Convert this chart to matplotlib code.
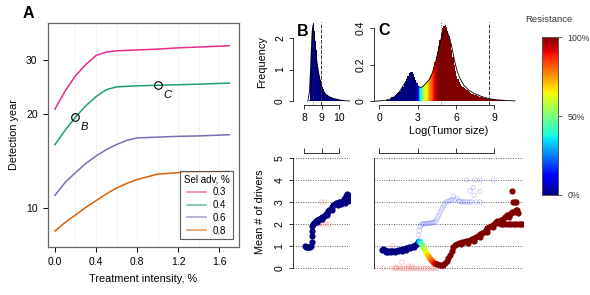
import numpy as np
import matplotlib
matplotlib.use('Agg')
import matplotlib.pyplot as plt
from matplotlib.lines import Line2D

plt.rcParams['font.family'] = ['Liberation Sans', 'DejaVu Sans']
plt.rcParams['font.size'] = 7.5

W, H = 590, 295

# ---- panel A data ----
treat_x = [0, 0.1, 0.2, 0.3, 0.4, 0.5, 0.6, 0.7, 0.8, 1.0, 1.2, 1.4, 1.7]
sel_labels = ['0.3', '0.4', '0.6', '0.8']
sel_colors = ['#E7298A', '#1B9E77', '#7570B3', '#D95F02']
det_03 = [20.8, 23.8, 26.6, 28.9, 30.9, 31.7, 32.0, 32.1, 32.2, 32.4, 32.7, 32.9, 33.2]
det_04 = [16.0, 17.8, 19.6, 21.3, 22.8, 24.0, 24.5, 24.6, 24.7, 24.8, 24.9, 25.0, 25.2]
det_06 = [11.0, 12.1, 13.0, 13.9, 14.7, 15.4, 16.0, 16.5, 16.8, 16.9, 17.0, 17.05, 17.2]
det_08 = [8.44, 9.0, 9.5, 10.05, 10.56, 11.1, 11.6, 12.0, 12.35, 12.85, 13.0, 13.05, 13.1]
marked_pts = [(0.2, 19.6, 'B'), (1.0, 24.8, 'C')]

# ---- panel B top: histogram of log tumor size ----
b_hist_left = [8.20, 8.25, 8.30, 8.35, 8.40, 8.45, 8.50, 8.55, 8.60, 8.65, 8.70, 8.75,
               8.80, 8.85, 8.90, 8.95, 9.00, 9.05, 9.10, 9.15, 9.20, 9.25, 9.30, 9.35,
               9.40, 9.45, 9.50, 9.55, 9.60, 9.65, 9.70, 9.75, 9.80, 9.85, 9.90, 9.95,
               10.0, 10.05, 10.1, 10.15, 10.2, 10.25, 10.3, 10.35, 10.4, 10.45, 10.5, 10.55]
b_hist_h = [0.0, 0.05, 0.35, 1.0, 1.7, 2.3, 2.45, 2.2, 1.9, 1.6, 1.35, 1.12,
            0.95, 0.8, 0.67, 0.55, 0.45, 0.38, 0.33, 0.28, 0.24, 0.21, 0.19, 0.17,
            0.15, 0.14, 0.12, 0.11, 0.1, 0.09, 0.08, 0.075, 0.07, 0.06, 0.055, 0.05,
            0.045, 0.04, 0.035, 0.03, 0.028, 0.025, 0.02, 0.018, 0.015, 0.012, 0.01, 0.008]
b_dens_x = [8.2, 8.3, 8.35, 8.4, 8.45, 8.5, 8.55, 8.6, 8.7, 8.8, 8.9, 9.0, 9.1, 9.2,
            9.4, 9.6, 9.8, 10.0, 10.3, 10.6]
b_dens_y = [0, 0.3, 0.9, 1.6, 2.2, 2.4, 2.2, 1.9, 1.35, 0.95, 0.67, 0.45, 0.33, 0.24,
            0.15, 0.1, 0.07, 0.045, 0.02, 0.008]
b_dashed, b_dotted = 8.93, 8.5

# ---- panel C top ----
c_bin_start, c_bin_w = -0.4, 0.1
c_hist_h = [0.000, 0.000, 0.001, 0.001, 0.002, 0.002, 0.003, 0.003, 0.004, 0.005,
            0.006, 0.008, 0.010, 0.021, 0.022, 0.025, 0.030, 0.042, 0.045, 0.050,
            0.058, 0.066, 0.078, 0.092, 0.108, 0.122, 0.140, 0.152, 0.162, 0.160,
            0.150, 0.135, 0.118, 0.100, 0.086, 0.078, 0.078, 0.082, 0.088, 0.094,
            0.100, 0.108, 0.118, 0.130, 0.145, 0.162, 0.185, 0.212, 0.240, 0.270,
            0.300, 0.335, 0.370, 0.398, 0.410, 0.418, 0.405, 0.385, 0.355, 0.320,
            0.280, 0.240, 0.200, 0.165, 0.140, 0.120, 0.105, 0.095, 0.086, 0.078,
            0.071, 0.065, 0.060, 0.055, 0.050, 0.046, 0.042, 0.039, 0.036, 0.033,
            0.030, 0.028, 0.026, 0.024, 0.022, 0.020, 0.018, 0.016, 0.015, 0.014,
            0.013, 0.012, 0.011, 0.010, 0.009, 0.008, 0.008, 0.007, 0.006, 0.006,
            0.005, 0.005, 0.004, 0.004, 0.003, 0.003, 0.003, 0.002, 0.002, 0.002]
# resistance of bins from 2.9 to 4.6 (below: 0, above: 1)
c_res_from = 2.9
c_res_trans = [0.05, 0.15, 0.3, 0.4, 0.48, 0.55, 0.6, 0.64, 0.68, 0.72, 0.75, 0.8,
               0.84, 0.88, 0.92, 0.96, 0.99]
c_dens_x = [-0.4, 0, 0.5, 1.0, 1.5, 2.0, 2.2, 2.4, 2.6, 2.8, 3.0, 3.2, 3.4, 3.6, 3.8,
            4.0, 4.2, 4.4, 4.6, 4.8, 5.0, 5.15, 5.3, 5.5, 5.7, 5.9, 6.1, 6.3, 6.6, 7.0,
            7.5, 8.0, 8.6, 9.2, 9.8, 10.6]
c_dens_y = [0.0, 0.002, 0.006, 0.016, 0.045, 0.10, 0.125, 0.143, 0.135, 0.11, 0.085,
            0.075, 0.08, 0.095, 0.11, 0.128, 0.168, 0.215, 0.275, 0.335, 0.378, 0.389,
            0.38, 0.345, 0.285, 0.215, 0.16, 0.125, 0.088, 0.06, 0.04, 0.026, 0.014,
            0.008, 0.005, 0.002]
c_dashed, c_dotted = 8.6, 4.8

# ---- panel B bottom: mean drivers ----
b_drv_x = [8.04, 8.1, 8.16, 8.22, 8.28, 8.34, 8.4, 8.44, 8.45, 8.46, 8.47, 8.5, 8.55,
           8.6, 8.65, 8.7, 8.75, 8.8, 8.85, 8.9, 8.95, 9.0, 9.07, 9.14, 9.21, 9.28,
           9.35, 9.42, 9.5, 9.58, 9.66, 9.73, 9.8, 9.88, 9.95, 10.02, 10.1, 10.18,
           10.25, 10.32, 10.38, 10.44, 10.48, 10.52, 10.55, 10.5, 10.3, 10.1, 9.9, 9.6,
           9.3, 9.0, 8.75]
b_drv_y = [1.0, 0.98, 0.97, 0.97, 0.98, 0.98, 1.0, 1.2, 1.45, 1.7, 1.9, 2.0, 2.05,
           2.1, 2.12, 2.16, 2.18, 2.2, 2.22, 2.25, 2.27, 2.3, 2.33, 2.38, 2.45, 2.5,
           2.57, 2.62, 2.7, 2.78, 2.85, 2.9, 2.95, 2.97, 3.0, 2.98, 3.02, 3.05,
           3.12, 3.2, 3.25, 3.38, 3.3, 3.15, 3.1, 3.05, 2.95, 2.9, 2.85, 2.65,
           2.42, 2.22, 2.1]
b_pink_x = [8.98, 9.17, 8.85, 8.98, 9.1, 9.25, 9.4]
b_pink_y = [3.0, 3.0, 2.0, 2.0, 2.0, 2.0, 2.0]

# ---- panel C bottom ----
c_navy_x = [0.19, 0.3, 0.45, 0.6, 0.75, 0.9, 1.0, 1.15, 1.3, 1.45, 1.6, 1.75, 1.9, 2.05,
            2.2, 2.35, 2.5, 2.65, 2.8, 2.95, 3.05, 0.5, 0.7, 0.9, 1.2, 1.5, 1.8, 2.1,
            2.4, 2.7]
c_navy_y = [0.83, 0.86, 0.82, 0.80, 0.78, 0.80, 0.76, 0.80, 0.79, 0.82, 0.84, 0.86,
            0.88, 0.90, 0.93, 0.96, 0.98, 1.02, 1.05, 1.12, 1.18, 0.74, 0.72, 0.72,
            0.73, 0.76, 0.8, 0.84, 0.9, 0.97]
c_mix_x = [3.1, 3.18, 3.3, 3.44, 3.57, 3.7, 3.83, 3.96, 4.09, 4.22, 4.35, 4.48, 4.6]
c_mix_y = [1.2, 1.2, 1.1, 0.98, 0.83, 0.68, 0.56, 0.45, 0.35, 0.27, 0.21, 0.18, 0.16]
c_mix_res = [0.2, 0.35, 0.45, 0.52, 0.58, 0.64, 0.7, 0.75, 0.8, 0.85, 0.9, 0.95, 1.0]
c_red_x = [4.74, 4.87, 5.0, 5.13, 5.26, 5.39, 5.52, 5.65, 5.78, 5.9, 6.05, 6.2, 6.35,
           6.5, 6.65, 6.8, 6.95, 7.1, 7.25, 7.4, 7.55, 7.7, 7.85, 8.0, 8.15, 8.3, 8.45,
           8.6, 8.75, 8.9, 9.05, 9.2, 9.35, 9.5, 9.65, 9.8, 9.95, 10.1, 10.25, 10.4,
           10.55, 10.7, 10.85, 9.5, 9.7, 9.9, 10.1, 10.3, 10.5, 10.7, 10.9, 11.05,
           11.15, 6.4, 6.9, 7.4, 7.9, 8.4, 8.9, 9.3, 10.34, 10.47, 10.6, 10.68, 10.73]
c_red_y = [0.15, 0.14, 0.17, 0.23, 0.35, 0.47, 0.6, 0.8, 0.98, 1.04, 1.1, 1.13, 1.15,
           1.17, 1.19, 1.22, 1.25, 1.28, 1.31, 1.35, 1.4, 1.47, 1.53, 1.59, 1.65, 1.72,
           1.8, 1.87, 1.92, 1.97, 2.05, 2.12, 2.16, 2.2, 2.25, 2.33, 2.4, 2.3, 2.45,
           2.55, 2.55, 2.65, 2.5, 2.0, 2.0, 2.0, 2.0, 2.0, 2.0, 2.0, 2.0, 2.0,
           2.0, 1.08, 1.15, 1.25, 1.42, 1.65, 1.88, 2.05, 3.51, 3.01, 3.0, 3.02, 2.65]
c_blue_x = [3.05, 3.12, 3.18, 3.25, 3.35, 3.44, 3.55, 3.65, 3.75, 3.85, 3.96, 4.05,
            4.15, 4.25, 4.35, 4.45, 4.55, 4.65, 4.75, 4.87, 4.95, 5.05, 5.13, 5.25,
            5.4, 5.52, 5.65, 5.78, 5.9, 6.05, 6.2, 6.3, 6.45, 6.6, 6.75, 6.9, 7.09,
            7.25, 7.4, 7.34, 7.09, 7.87, 7.87, 6.83, 7.48, 7.87, 8.9, 7.6]
c_blue_y = [1.5, 1.7, 1.88, 1.95, 2.0, 2.0, 2.02, 2.03, 2.03, 2.04, 2.04, 2.05,
            2.06, 2.07, 2.1, 2.18, 2.28, 2.4, 2.52, 2.64, 2.75, 2.85, 2.94, 3.0,
            3.05, 3.05, 3.1, 3.24, 3.1, 3.17, 3.05, 3.02, 3.0, 3.0, 3.0, 3.0, 3.0,
            3.0, 3.3, 3.65, 3.5, 3.47, 3.0, 4.0, 4.0, 4.0, 4.0, 3.0]
c_pink_x = [0.31, 0.97, 1.22, 1.35, 1.5, 1.65, 1.8, 1.95, 2.1, 2.25, 2.4, 2.55, 2.7,
            2.85, 3.0, 3.15, 3.3, 3.45, 3.6, 3.75, 3.9, 4.05, 4.2, 4.35, 4.5, 1.75,
            2.27, 2.53, 1.05, 1.3]
c_pink_y = [0, 0, 0, 0, 0, 0, 0, 0, 0, 0, 0, 0, 0, 0, 0, 0, 0, 0, 0, 0, 0, 0, 0, 0,
            0, 0.27, 0.1, 0.1, 1.02, 0.05]

cmap = plt.get_cmap('jet')
navy, dred = cmap(0.0), cmap(1.0)
TICK_FS = 7.5
LAB_FS = 7.8


def box(l, t, r, b):
    return [l / W, 1 - b / H, (r - l) / W, (b - t) / H]


def r_style(ax):
    for s in ['top', 'right']:
        ax.spines[s].set_visible(False)
    ax.tick_params(length=3, width=0.7, labelsize=TICK_FS, color='#333333', pad=3)
    for s in ax.spines.values():
        s.set_linewidth(0.7)
        s.set_color('#333333')


fig = plt.figure(figsize=(W / 100, H / 100), dpi=100)

# ================= A =================
axA = fig.add_axes(box(48, 23, 238.6, 247))
for gx in np.arange(0.2, 1.7, 0.2):
    axA.axvline(gx, color='#dddddd', ls=':', lw=0.7, zorder=0)
for ys, col in zip([det_03, det_04, det_06, det_08], sel_colors):
    axA.plot(treat_x, ys, color=col, lw=1.1)
for px, py, lab in marked_pts:
    axA.plot(px, py, 'o', mfc='none', mec='black', ms=5.5, mew=0.8)
    axA.annotate(lab, (px, py), xytext=(4, -9.5), textcoords='offset points',
                 fontsize=8, style='italic')
axA.set_yscale('log')
axA.set_ylim(7.5, 39.3)
axA.set_xlim(-0.068, 1.79)
axA.set_yticks([10, 20, 30])
axA.set_yticklabels(['10', '20', '30'])
axA.yaxis.set_minor_locator(matplotlib.ticker.NullLocator())
axA.set_xticks([0, 0.4, 0.8, 1.2, 1.6])
axA.set_xticklabels(['0.0', '0.4', '0.8', '1.2', '1.6'])
axA.tick_params(length=3.5, width=0.7, labelsize=TICK_FS, pad=4)
for s in axA.spines.values():
    s.set_color('#666666')
    s.set_linewidth(0.9)
axA.set_xlabel('Treatment intensity, %', fontsize=LAB_FS, labelpad=5)
axA.set_ylabel('Detection year', fontsize=LAB_FS, labelpad=5)
handles = [Line2D([], [], color=c, lw=1.2, alpha=0.6) for c in sel_colors]
leg = axA.legend(handles, sel_labels, title='Sel adv, %', loc='lower right',
                 bbox_to_anchor=(0.98, 0.027), fontsize=7, title_fontsize=7,
                 frameon=True, fancybox=False, handlelength=2.0,
                 borderpad=0.35, labelspacing=0.28, handletextpad=0.7,
                 borderaxespad=0.2)
leg.get_frame().set_edgecolor('#333333')
leg.get_frame().set_linewidth(0.8)
fig.text(28.3 / W, 1 - 13 / H, 'A', fontsize=11.5, fontweight='bold',
         ha='center', va='center')

# ================= B top =================
axB = fig.add_axes(box(293.3, 22, 350, 105))
axB.bar(b_hist_left, b_hist_h, width=0.05, align='edge', color=navy, lw=0)
axB.plot(b_dens_x, b_dens_y, color='black', lw=0.6)
axB.axvline(b_dashed, color='#333333', ls='--', lw=0.7)
axB.axvline(b_dotted, color='#333333', ls=':', lw=0.6)
axB.set_xlim(7.38, 10.6)
axB.set_ylim(-0.116, 2.494)
r_style(axB)
axB.spines['left'].set_bounds(0, 2)
axB.spines['bottom'].set_bounds(8, 10)
axB.set_xticks([8, 9, 10])
axB.set_yticks([0, 1, 2])
axB.tick_params(axis='y', labelrotation=90)
for t in axB.get_yticklabels():
    t.set_va('center')
fig.text(262 / W, 1 - 62 / H, 'Frequency', rotation=90, fontsize=LAB_FS,
         ha='center', va='center')
fig.text(302.3 / W, 1 - 31.7 / H, 'B', fontsize=11.5, fontweight='bold',
         ha='center', va='center')

# ================= C top =================
axC = fig.add_axes(box(374, 22, 523.3, 105))
n_bins = len(c_hist_h)
edges = c_bin_start + c_bin_w * np.arange(n_bins)
res = []
for e in edges:
    k = int(round((e - c_res_from) / c_bin_w))
    if k < 0:
        res.append(0.0)
    elif k >= len(c_res_trans):
        res.append(1.0)
    else:
        res.append(c_res_trans[k])
axC.bar(edges, c_hist_h, width=c_bin_w, align='edge', color=cmap(res), lw=0)
axC.plot(c_dens_x, c_dens_y, color='black', lw=0.6)
axC.axvline(c_dashed, color='#333333', ls='--', lw=0.7)
axC.axvline(c_dotted, color='#333333', ls=':', lw=0.6)
axC.set_xlim(-0.414, 11.25)
axC.set_ylim(-0.0202, 0.4326)
r_style(axC)
axC.spines['left'].set_bounds(0, 0.4)
axC.spines['bottom'].set_bounds(0, 9)
axC.set_xticks([0, 3, 6, 9])
axC.set_yticks([0, 0.2, 0.4])
axC.set_yticklabels(['0', '0.2', '0.4'])
axC.tick_params(axis='y', labelrotation=90)
for t in axC.get_yticklabels():
    t.set_va('center')
axC.set_xlabel('Log(Tumor size)', fontsize=LAB_FS, labelpad=2)
fig.text(384.3 / W, 1 - 30.7 / H, 'C', fontsize=11.5, fontweight='bold',
         ha='center', va='center')


# ================= bottom panels =================
def bottom_style(ax, xb, xt, left_ticks):
    for s in ['bottom', 'right']:
        ax.spines[s].set_visible(False)
    for s in ax.spines.values():
        s.set_linewidth(0.7)
        s.set_color('#333333')
    ax.spines['left'].set_bounds(0, 5)
    ax.spines['top'].set_bounds(*xb)
    ax.xaxis.tick_top()
    ax.set_xticks(xt)
    ax.tick_params(axis='x', labeltop=False, length=3.5, width=0.7, color='#333333')
    for gy in range(6):
        ax.axhline(gy, color='#666666', ls=(0, (1, 1.5)), lw=0.7, zorder=0)
    ax.set_ylim(-0.167, 5.2)
    if left_ticks:
        ax.set_yticks(range(6))
        ax.tick_params(axis='y', length=3, width=0.7, labelsize=TICK_FS,
                       labelrotation=90, color='#333333')
        for t in ax.get_yticklabels():
            t.set_va('center')
    else:
        ax.set_yticks([])


axBb = fig.add_axes(box(293.3, 153.3, 350, 272))
axBb.scatter(b_pink_x, b_pink_y, s=10, facecolors='none', edgecolors='#ff6666',
             alpha=0.35, lw=0.6)
axBb.scatter(b_drv_x, b_drv_y, s=20, color=navy, lw=0)
axBb.set_xlim(7.38, 10.6)
bottom_style(axBb, (8, 10), [8, 9, 10], True)
fig.text(260 / W, 1 - 212 / H, 'Mean # of drivers', rotation=90, fontsize=LAB_FS,
         ha='center', va='center')

axCb = fig.add_axes(box(374, 153.3, 523.3, 272))
axCb.scatter(c_pink_x, c_pink_y, s=10, facecolors='none', edgecolors='#ff6666',
             alpha=0.35, lw=0.6)
axCb.scatter(c_blue_x, c_blue_y, s=10, facecolors='none', edgecolors='#6666ff',
             alpha=0.35, lw=0.6)
axCb.scatter(c_navy_x, c_navy_y, s=20, color=navy, lw=0)
axCb.scatter(c_red_x, c_red_y, s=20, color=dred, lw=0)
axCb.scatter(c_mix_x, c_mix_y, s=20, c=c_mix_res, cmap=cmap, vmin=0, vmax=1, lw=0)
axCb.set_xlim(-0.414, 11.25)
bottom_style(axCb, (0, 9), [0, 3, 6, 9], False)

# ================= colorbar =================
axCB = fig.add_axes(box(542.3, 37.3, 558.3, 195))
grad = np.linspace(0, 1, 256).reshape(-1, 1)
axCB.imshow(grad, aspect='auto', cmap=cmap, origin='lower', extent=[0, 1, 0, 1])
axCB.set_xticks([])
axCB.yaxis.tick_right()
axCB.set_yticks([0, 0.5, 1])
axCB.set_yticklabels(['0%', '50%', '100%'])
axCB.tick_params(axis='y', length=3, width=0.6, labelsize=6.3, color='#555555',
                 labelcolor='#333333')
for s in axCB.spines.values():
    s.set_color('#555555')
    s.set_linewidth(0.7)
fig.text(549.3 / W, 1 - 20 / H, 'Resistance', fontsize=6.8, ha='center',
         va='center', color='#333333')

fig.savefig('out.png', dpi=100)
